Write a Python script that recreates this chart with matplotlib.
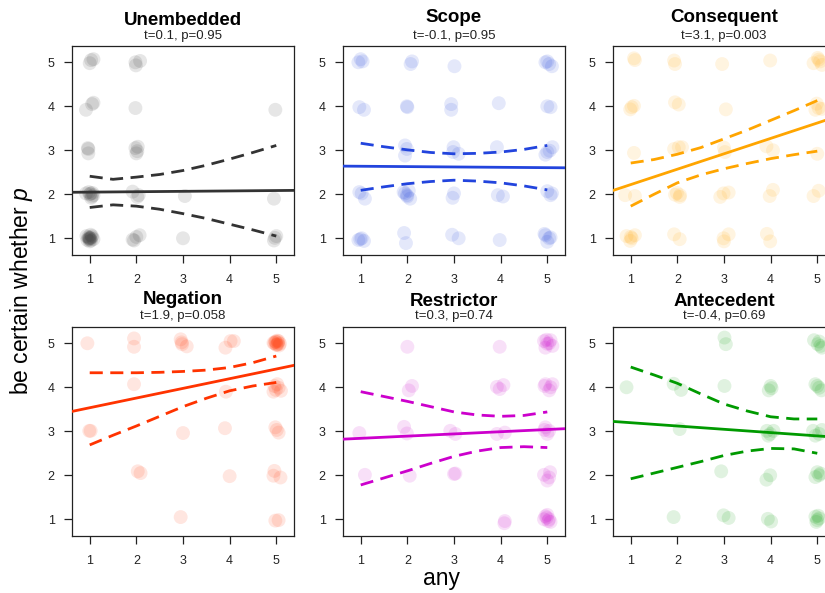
from matplotlib import pyplot as plt

plt.rcParams['font.family'] = ['Liberation Sans', 'DejaVu Sans']
plt.rcParams['mathtext.fontset'] = 'custom'
plt.rcParams['mathtext.it'] = 'Liberation Sans:italic'
plt.rcParams['mathtext.rm'] = 'Liberation Sans'

names = ["Unembedded", "Scope", "Consequent", "Negation", "Restrictor", "Antecedent"]
stats = ["t=0.1, p=0.95", "t=-0.1, p=0.95", "t=3.1, p=0.003",
         "t=1.9, p=0.058", "t=0.3, p=0.74", "t=-0.4, p=0.69"]
colors = ["#333333", "#2244DD", "#FFA500", "#FF3300", "#CC00CC", "#009A00"]

# jittered responses (any, be certain whether p)
unemb_x = [1.03, 1.0, 1.08, 1.98, 2.08, 1.99,
           0.92, 1.05, 1.08, 1.98, 4.98,
           0.97, 0.97, 0.96, 1.98, 2.02, 2.0, 2.03,
           1.02, 1.05, 0.98, 1.08, 0.92, 1.03, 1.0, 1.06, 1.92, 2.05, 2.02, 3.04, 4.95,
           1.0, 1.03, 0.97, 1.05, 0.95, 1.08, 1.02, 0.93, 1.0, 1.01, 0.98, 1.04, 1.0, 0.99,
           1.95, 2.07, 2.0, 1.92, 3.0, 4.97, 4.95, 5.0]
unemb_y = [5.05, 4.98, 5.07, 5.0, 5.03, 4.93,
           3.92, 4.05, 4.08, 3.96, 3.92,
           3.03, 2.93, 3.05, 3.05, 2.98, 2.93, 3.08,
           2.02, 1.95, 2.05, 1.98, 2.02, 1.92, 2.0, 2.03, 2.06, 1.98, 1.94, 1.96, 1.9,
           1.0, 0.95, 1.03, 1.05, 0.96, 0.98, 1.08, 1.05, 0.93, 1.0, 0.99, 1.02, 0.97, 1.01,
           0.95, 1.07, 1.03, 0.97, 1.0, 1.01, 0.95, 1.05]

scope_x = [1.0, 1.04, 0.95, 2.1, 2.07, 3.01, 4.96, 5.04, 5.1, 5.0,
           0.97, 1.07, 1.99, 2.0, 2.94, 2.94, 3.96, 5.0, 5.07,
           1.95, 1.95, 1.99, 2.99, 3.1, 2.98, 3.92, 5.11, 5.0, 4.96, 5.05,
           0.97, 1.02, 1.09, 1.92, 1.99, 2.06, 1.95, 2.03, 2.0, 3.0, 2.97, 3.94, 4.05,
           5.0, 5.07, 5.1,
           0.95, 1.02, 1.07, 0.99, 1.93, 1.97, 2.96, 3.1, 3.98,
           4.96, 5.04, 5.0, 5.07, 4.94]
scope_y = [5.07, 5.02, 5.0, 5.02, 4.96, 4.91, 5.0, 4.96, 4.91, 5.02,
           3.98, 3.92, 4.0, 3.98, 4.05, 3.92, 4.07, 4.0, 3.98,
           3.11, 2.88, 3.03, 3.07, 2.92, 2.96, 3.07, 3.07, 2.96, 2.9, 2.99,
           2.05, 2.02, 1.9, 2.05, 1.98, 1.9, 2.02, 2.08, 1.95, 2.02, 1.92, 1.98, 1.95,
           2.07, 1.98, 2.02,
           0.96, 1.0, 0.94, 0.98, 1.12, 0.89, 1.08, 1.0, 0.96,
           1.07, 1.0, 0.92, 1.02, 1.1]

conseq_x = [1.07, 1.09, 1.93, 1.95, 2.96, 3.99, 4.92, 5.01, 5.06, 5.1, 5.03,
            1.02, 1.07, 0.99, 1.95, 2.03, 3.04, 4.99, 5.03, 5.1, 4.96,
            1.07, 1.93, 2.03, 2.1, 3.0, 3.02, 3.91, 4.05, 5.0,
            0.88, 1.09, 1.99, 2.06, 1.95, 2.05, 2.92, 2.99, 3.1, 4.05, 3.98, 5.03, 4.92,
            0.91, 1.02, 1.09, 0.99, 1.0, 1.93, 2.05, 3.1, 2.99, 3.0, 3.92, 3.99]
conseq_y = [5.09, 5.05, 5.04, 4.96, 4.96, 5.04, 4.98, 5.1, 5.02, 4.94, 5.06,
            3.98, 4.01, 3.93, 4.09, 4.04, 3.93, 4.06, 3.96, 3.94, 3.92,
            2.94, 3.03, 3.07, 3.07, 3.06, 2.96, 3.09, 3.0, 2.92,
            1.98, 1.96, 2.03, 1.98, 1.99, 1.94, 1.94, 2.02, 2.04, 2.1, 1.96, 2.08, 1.96,
            1.05, 1.0, 1.07, 0.94, 1.03, 1.09, 0.98, 1.09, 1.0, 0.93, 1.1, 0.93]

neg_x = [0.95, 1.95, 1.95, 2.95, 2.98, 3.08, 2.97, 3.91, 4.02, 4.09,
         4.96, 5.0, 5.04, 5.08, 4.98, 5.02, 5.06, 4.94, 5.03, 4.99, 5.05, 5.01,
         1.95, 3.92, 4.96, 5.05, 5.1, 4.99, 5.02, 4.94,
         0.99, 1.02, 3.0, 3.9, 4.98, 5.05, 5.01,
         2.03, 2.09, 4.0, 4.96, 4.94, 5.09,
         2.95, 4.98, 5.05]
neg_y = [5.0, 5.11, 4.92, 5.09, 4.98, 4.93, 5.02, 4.9, 5.05, 5.05,
         5.0, 4.97, 5.02, 4.99, 5.04, 5.06, 4.95, 5.01, 4.98, 5.03, 5.05, 4.96,
         4.07, 3.9, 4.03, 3.99, 3.92, 3.94, 4.07, 3.9,
         3.01, 3.01, 2.96, 3.07, 3.09, 2.97, 3.03,
         2.09, 2.05, 1.98, 2.1, 1.99, 1.95,
         1.05, 0.97, 0.98]

restr_x = [2.0, 3.98, 4.93, 5.04, 5.11, 4.96, 5.07, 5.0, 4.98,
           2.1, 2.03, 3.92, 4.06, 3.98, 4.96, 5.07, 5.04, 5.11, 4.94,
           0.97, 1.93, 1.99, 2.92, 3.03, 3.92, 4.09, 4.96, 5.0, 5.04, 4.94,
           1.09, 2.05, 3.0, 3.03, 4.93, 5.06, 5.04, 5.0,
           4.09, 4.08, 4.96, 5.04, 5.0, 5.07, 4.93, 5.02, 4.99]
restr_y = [4.92, 4.92, 5.05, 5.0, 4.94, 4.9, 5.07, 4.99, 5.08,
           4.03, 3.93, 4.01, 4.05, 3.96, 4.07, 4.0, 3.93, 4.07, 4.03,
           2.96, 3.1, 2.95, 3.01, 2.94, 2.94, 2.97, 3.09, 2.94, 3.01, 3.03,
           2.01, 1.99, 2.03, 2.04, 2.01, 2.07, 1.95, 1.88,
           0.96, 0.91, 1.07, 1.0, 1.1, 0.94, 1.0, 0.96, 1.04]

antec_x = [3.01, 3.04, 4.93, 5.01, 5.07, 5.04, 5.1,
           0.91, 1.92, 2.08, 3.01, 4.0, 3.96, 4.02, 4.96, 5.04, 5.09, 5.0,
           2.05, 3.92, 3.99, 4.06, 3.95, 4.91, 5.04, 5.1, 4.96,
           2.94, 3.91, 3.99, 5.0, 5.04, 4.96, 5.07,
           1.92, 2.99, 3.1, 3.94, 4.01, 4.96, 5.0, 5.04, 4.98, 5.02]
antec_y = [5.13, 4.98, 5.07, 4.98, 4.94, 5.04, 4.9,
           4.0, 4.08, 3.94, 4.03, 4.03, 3.93, 3.98, 4.07, 3.99, 3.93, 4.03,
           3.05, 3.01, 2.94, 3.01, 2.9, 3.01, 2.94, 3.03, 2.9,
           2.09, 1.9, 2.0, 2.07, 2.0, 1.96, 2.04,
           1.05, 1.09, 1.03, 1.01, 0.95, 1.06, 0.98, 1.02, 0.94, 1.08]

xs = [unemb_x, scope_x, conseq_x, neg_x, restr_x, antec_x]
ys = [unemb_y, scope_y, conseq_y, neg_y, restr_y, antec_y]

# fitted regression lines
intercepts = [2.04, 2.645, 1.87, 3.315, 2.79, 3.27]
slopes = [0.009, -0.008, 0.35, 0.22, 0.05, -0.075]

# confidence band, read at these values of any
ci_x = [1, 1.5, 2, 2.5, 3, 3.5, 4, 4.5, 5]
ci_upper = [
    [2.41, 2.34, 2.39, 2.45, 2.54, 2.66, 2.80, 2.95, 3.11],
    [3.16, 3.08, 3.01, 2.95, 2.92, 2.93, 2.96, 3.02, 3.11],
    [2.71, 2.79, 2.91, 3.06, 3.26, 3.46, 3.68, 3.90, 4.13],
    [4.33, 4.33, 4.33, 4.34, 4.36, 4.39, 4.45, 4.56, 4.71],
    [3.90, 3.79, 3.68, 3.56, 3.44, 3.37, 3.34, 3.36, 3.44],
    [4.46, 4.28, 4.09, 3.85, 3.62, 3.46, 3.33, 3.28, 3.28],
]
ci_lower = [
    [1.70, 1.76, 1.73, 1.66, 1.56, 1.45, 1.32, 1.19, 1.05],
    [2.09, 2.17, 2.24, 2.29, 2.32, 2.30, 2.26, 2.19, 2.10],
    [1.73, 2.00, 2.26, 2.44, 2.58, 2.70, 2.81, 2.90, 2.98],
    [2.69, 2.91, 3.12, 3.34, 3.56, 3.75, 3.92, 4.03, 4.11],
    [1.78, 1.94, 2.10, 2.27, 2.43, 2.55, 2.63, 2.65, 2.63],
    [1.92, 2.05, 2.18, 2.31, 2.45, 2.55, 2.61, 2.60, 2.50],
]

W, H = 825, 593
fig = plt.figure(figsize=(W / 100, H / 100), dpi=100)

col_left = [72, 343, 613]
row_top = [46, 327]
aw, ah = 222, 209
title_gap = [21, 24, 24, 23, 21, 21]

for i in range(6):
    r, c = divmod(i, 3)
    ax = fig.add_axes([col_left[c] / W, 1 - (row_top[r] + ah) / H, aw / W, ah / H])
    col = colors[i]
    ax.scatter(xs[i], ys[i], s=100, color=col, alpha=0.12, edgecolors="none", zorder=1)
    ax.axline((0, intercepts[i]), slope=slopes[i], color=col, lw=2.0, zorder=3)
    ax.plot(ci_x, ci_upper[i], color=col, lw=2.0, ls=(0, (4.7, 2.7)), zorder=3)
    ax.plot(ci_x, ci_lower[i], color=col, lw=2.0, ls=(0, (4.7, 2.7)), zorder=3)
    ax.set_xlim(0.62, 5.38)
    ax.set_ylim(0.62, 5.37)
    ax.set_xticks([1, 2, 3, 4, 5])
    ax.set_yticks([1, 2, 3, 4, 5])
    ax.tick_params(axis="both", direction="out", length=5.5, width=0.9,
                   labelsize=9, colors="#222222")
    ax.tick_params(axis="x", pad=8)
    ax.tick_params(axis="y", pad=7)
    for sp in ax.spines.values():
        sp.set_linewidth(0.9)
        sp.set_color("#222222")
    ax.annotate(names[i], xy=(0.5, 1), xycoords="axes fraction",
                xytext=(0, title_gap[i] * 0.72), textcoords="offset points",
                ha="center", va="baseline", fontsize=13.5, fontweight="bold")
    ax.annotate(stats[i], xy=(0.5, 1), xycoords="axes fraction",
                xytext=(0, 7.5 * 0.72), textcoords="offset points",
                ha="center", va="baseline", fontsize=9.5, color="#222222")

fig.text(22 / W, 1 - 291 / H, "be certain whether $p$", rotation=90,
         ha="center", va="center", fontsize=16.5)
fig.text(442 / W, 1 - 578 / H, "any", ha="center", va="center", fontsize=16.5)

fig.savefig("out.png", dpi=100)
